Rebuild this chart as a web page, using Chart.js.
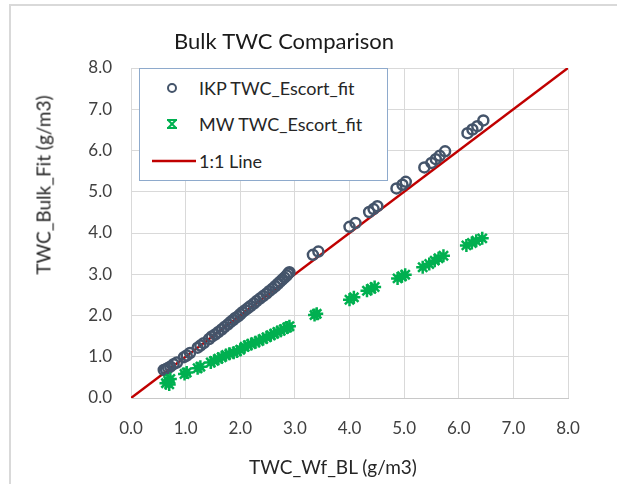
<!DOCTYPE html>
<html>
<head>
<meta charset="utf-8">
<script src="https://cdn.jsdelivr.net/npm/chart.js@4"></script>
<style>
    body { margin: 0; background: #fff; }
    #wrap { position: relative; width: 617px; height: 484px; overflow: hidden; font-family: Lato, "Open Sans", sans-serif; }
    #frame { position: absolute; left: 9px; top: 4px; width: 700px; height: 600px; border-left: 2px solid #d9d9d9; border-top: 2px solid #d9d9d9; }
    #sensorChart { position: absolute; left: 0; top: 0; }
    .axisTitle { position: absolute; font-size: 19px; color: #262626; white-space: nowrap; }
    #yTitle { left: 43px; top: 185px; transform: translate(-50%, -50%) rotate(-90deg); }
    #xTitle { left: 333px; top: 466px; transform: translate(-50%, -50%); }
    #legend { position: absolute; left: 139px; top: 68px; width: 247px; height: 111px; border: 1px solid #8eaacc; background: #fff; }
    .item { position: absolute; left: 0; height: 24px; display: flex; align-items: center; font-size: 18px; color: #262626; }
    .item svg { margin-left: 12px; margin-right: 1px; }
</style>
</head>
<body>
<div id="wrap">
    <div id="frame"></div>
    <canvas id="sensorChart" width="617" height="484"></canvas>
    <div id="yTitle" class="axisTitle">TWC_Bulk_Fit (g/m3)</div>
    <div id="xTitle" class="axisTitle">TWC_Wf_BL (g/m3)</div>
    <div id="legend">
        <div class="item" style="top: 7px;">
            <svg width="46" height="20"><circle cx="20" cy="10" r="4" fill="none" stroke="#44546a" stroke-width="2"/></svg>
            <span>IKP TWC_Escort_fit</span>
        </div>
        <div class="item" style="top: 43px;">
            <svg width="46" height="20"><g stroke="#00b050" stroke-width="2"><line x1="16" y1="6" x2="24" y2="14"/><line x1="24" y1="6" x2="16" y2="14"/><line x1="15" y1="6" x2="25" y2="6"/><line x1="15" y1="14" x2="25" y2="14"/></g></svg>
            <span>MW TWC_Escort_fit</span>
        </div>
        <div class="item" style="top: 80px;">
            <svg width="46" height="20"><line x1="0" y1="10" x2="44" y2="10" stroke="#c00000" stroke-width="2.5"/></svg>
            <span>1:1 Line</span>
        </div>
    </div>
</div>
<script>
const ikpX = [0.60, 0.64, 0.68, 0.72, 0.78, 0.84, 0.97, 1.02, 1.08, 1.22, 1.27, 1.33, 1.43, 1.48, 1.54, 1.60,
    1.66, 1.71, 1.77, 1.82, 1.87, 1.91, 1.96, 2.00, 2.04, 2.09, 2.14, 2.19, 2.25, 2.30, 2.36, 2.42,
    2.48, 2.53, 2.59, 2.64, 2.69, 2.73, 2.77, 2.81, 2.85, 2.88, 2.90, 3.33, 3.43, 4.00, 4.11, 4.36,
    4.44, 4.51, 4.86, 4.97, 5.03, 5.37, 5.50, 5.58, 5.65, 5.75, 6.16, 6.25, 6.34, 6.45];
const ikpY = [0.68, 0.70, 0.73, 0.76, 0.82, 0.86, 0.99, 1.03, 1.09, 1.22, 1.27, 1.33, 1.43, 1.49, 1.54, 1.60,
    1.66, 1.72, 1.78, 1.84, 1.89, 1.94, 1.98, 2.03, 2.08, 2.13, 2.18, 2.23, 2.29, 2.35, 2.41, 2.47,
    2.53, 2.59, 2.65, 2.71, 2.77, 2.82, 2.87, 2.92, 2.97, 3.02, 3.05, 3.47, 3.55, 4.15, 4.24, 4.51,
    4.58, 4.65, 5.08, 5.17, 5.24, 5.59, 5.70, 5.79, 5.87, 5.98, 6.42, 6.51, 6.59, 6.73];

const mwX = [0.64, 0.68, 0.72, 0.70, 0.98, 1.02, 1.22, 1.27, 1.46, 1.52, 1.60, 1.66, 1.74, 1.80, 1.88, 1.94,
    2.00, 2.08, 2.14, 2.20, 2.28, 2.34, 2.42, 2.48, 2.56, 2.62, 2.68, 2.74, 2.80, 2.86, 2.90, 3.36,
    3.40, 4.00, 4.08, 4.32, 4.40, 4.46, 4.88, 4.96, 5.02, 5.34, 5.46, 5.56, 5.63, 5.72, 6.14, 6.24,
    6.32, 6.43];
const mwY = [0.36, 0.42, 0.46, 0.33, 0.58, 0.62, 0.72, 0.76, 0.86, 0.90, 0.95, 0.99, 1.04, 1.07, 1.10, 1.13,
    1.17, 1.24, 1.28, 1.31, 1.35, 1.38, 1.43, 1.47, 1.52, 1.56, 1.60, 1.63, 1.67, 1.71, 1.74, 2.01,
    2.04, 2.38, 2.44, 2.60, 2.65, 2.69, 2.90, 2.95, 2.99, 3.17, 3.25, 3.33, 3.39, 3.45, 3.70, 3.76,
    3.81, 3.87];

const lineX = [0, 8];
const lineY = [0, 8];

const axisMin = 0;
const axisMax = 8;

const toPoints = (xs, ys) => xs.map((x, i) => ({ x: x, y: ys[i] }));
const tickFont = { family: 'Lato', size: 17 };

const ctx = document.getElementById('sensorChart').getContext('2d');

let twcChart = new Chart(ctx, {
    type: 'scatter',
    data: {
        datasets: [{
            label: 'IKP TWC_Escort_fit',
            data: toPoints(ikpX, ikpY),
            pointStyle: 'circle',
            radius: 5,
            borderWidth: 2.5,
            borderColor: '#44546a',
            backgroundColor: 'rgba(0,0,0,0)',
            order: 2,
        }, {
            label: 'MW TWC_Escort_fit',
            data: toPoints(mwX, mwY),
            pointStyle: 'star',
            radius: 6.5,
            borderWidth: 2.5,
            borderColor: '#00b050',
            backgroundColor: '#00b050',
            order: 1,
        }, {
            type: 'line',
            label: '1:1 Line',
            data: toPoints(lineX, lineY),
            borderColor: '#c00000',
            borderWidth: 2.5,
            pointRadius: 0,
            fill: false,
            order: 3,
        }],
    },
    options: {
        responsive: false,
        animation: false,
        devicePixelRatio: 1,
        layout: {
            padding: { left: 0, right: 49, top: 0, bottom: 0 },
        },
        plugins: {
            legend: { display: false },
            tooltip: { enabled: false },
            title: {
                display: true,
                text: 'Bulk TWC Comparison',
                color: '#1a1a1a',
                font: { family: 'Lato', size: 22, weight: 'normal' },
                padding: { top: 29, bottom: 12.6 },
            },
        },
        scales: {
            x: {
                type: 'linear',
                min: axisMin,
                max: axisMax,
                afterFit: (scale) => { scale.height = 86; },
                ticks: {
                    stepSize: 1,
                    color: '#404040',
                    font: tickFont,
                    padding: 20,
                    callback: (v) => v.toFixed(1),
                },
                grid: { color: '#d9d9d9', drawTicks: false },
                border: { color: '#c8c8c8' },
            },
            y: {
                type: 'linear',
                min: axisMin,
                max: axisMax,
                afterFit: (scale) => { scale.width = 131; },
                ticks: {
                    stepSize: 1,
                    color: '#404040',
                    font: tickFont,
                    padding: 19,
                    callback: (v) => v.toFixed(1),
                },
                grid: { color: '#d9d9d9', drawTicks: false },
                border: { color: '#d9d9d9' },
            },
        },
    },
});
</script>
</body>
</html>
